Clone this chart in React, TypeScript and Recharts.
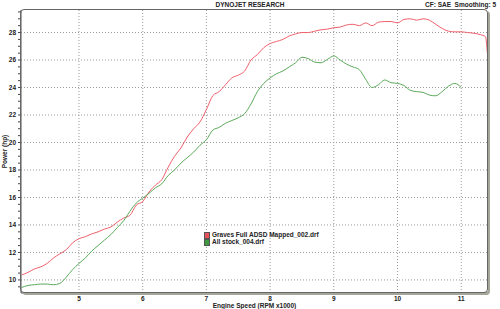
import React from 'react';
import { LineChart, Line, XAxis, YAxis, CartesianGrid, Legend } from 'recharts';

// engine speed in RPM x1000
const rpm = [
    4.1, 4.2, 4.3, 4.4, 4.5, 4.6, 4.7, 4.8, 4.9, 5.0,
    5.1, 5.2, 5.3, 5.4, 5.5, 5.6, 5.7, 5.8, 5.9, 6.0,
    6.1, 6.2, 6.3, 6.4, 6.5, 6.6, 6.7, 6.8, 6.9, 7.0,
    7.1, 7.2, 7.3, 7.4, 7.5, 7.6, 7.7, 7.8, 7.9, 8.0,
    8.1, 8.2, 8.3, 8.4, 8.5, 8.6, 8.7, 8.8, 8.9, 9.0,
    9.1, 9.2, 9.3, 9.4, 9.5, 9.6, 9.7, 9.8, 9.9, 10.0,
    10.1, 10.2, 10.3, 10.4, 10.5, 10.6, 10.7, 10.8, 10.9, 11.0,
    11.1, 11.2, 11.3, 11.38, 11.41,
];

// Graves Full ADSD Mapped_002.drf (hp)
const gravesHp = [
    10.36, 10.55, 10.8, 10.95, 11.2, 11.6, 11.9, 12.2, 12.7, 13.0,
    13.15, 13.35, 13.5, 13.7, 13.85, 14.2, 14.5, 14.7, 15.45, 15.7,
    16.4, 16.9, 17.3, 18.2, 19.0, 19.6, 20.4, 21.0, 21.5, 22.4,
    23.4, 23.7, 24.2, 24.7, 24.9, 25.2, 26.0, 26.4, 26.9, 27.2,
    27.35, 27.5, 27.75, 27.9, 28.0, 28.0, 28.1, 28.2, 28.25, 28.35,
    28.4, 28.55, 28.6, 28.5, 28.7, 28.5, 28.75, 28.8, 28.8, 28.7,
    28.95, 29.0, 28.9, 29.0, 28.9, 28.6, 28.3, 28.1, 28.05, 28.05,
    28.0, 27.95, 27.85, 27.7, 26.5,
];

// All stock_004.drf (hp)
const stockHp = [
    9.45, 9.6, 9.65, 9.7, 9.7, 9.65, 9.75, 10.2, 10.75, 11.2,
    11.6, 12.1, 12.5, 12.9, 13.3, 13.8, 14.3, 15.0, 15.6, 15.95,
    16.3, 16.7, 17.0, 17.6, 18.0, 18.5, 18.9, 19.3, 19.8, 20.2,
    20.9, 21.1, 21.4, 21.6, 21.8, 22.1, 22.8, 23.7, 24.3, 24.7,
    25.0, 25.2, 25.5, 25.8, 26.2, 26.1, 25.85, 25.8, 26.05, 26.3,
    26.0, 25.7, 25.5, 25.3, 24.6, 24.0, 24.2, 24.55, 24.35, 24.3,
    24.15, 23.8, 23.7, 23.65, 23.45, 23.4, 23.7, 24.1, 24.3, 24.0,
    null, null, null, null, null,
];

const xLabels = [5, 6, 7, 8, 9, 10, 11];
const yLabels = [10, 12, 14, 16, 18, 20, 22, 24, 26, 28];

const FONT = '"Liberation Sans", Arial, sans-serif';

// minor tick marks: every 0.2 on x, every 0.5 on y
const xTicks: number[] = [];
for (let i = 21; i <= 57; i++) xTicks.push(Math.round(i * 2) / 10);
const yTicks: number[] = [];
for (let i = 19; i <= 59; i++) yTicks.push(i / 2);

const data = rpm.map((r, i) => ({ rpm: r, graves: gravesHp[i], stock: stockHp[i] }));

const isMajor = (v: number, list: number[]) => list.some((m) => Math.abs(m - v) < 1e-6);

const XTick = (props: any) => {
    const { x, y, payload } = props;
    const major = isMajor(payload.value, xLabels);
    return (
        <g>
            <line x1={x} x2={x} y1={y} y2={y + 2} stroke="#444" />
            {major && (
                <text x={x} y={y + 7.5} textAnchor="middle" fontSize={6.5} fontWeight="bold" fill="#222" fontFamily={FONT}>
                    {Math.round(payload.value)}
                </text>
            )}
        </g>
    );
};

const YTick = (props: any) => {
    const { x, y, payload } = props;
    const major = isMajor(payload.value, yLabels);
    return (
        <g>
            <line x1={x - 3} x2={x} y1={y} y2={y} stroke="#444" />
            {major && (
                <text x={x - 5} y={y + 2.3} textAnchor="end" fontSize={6.5} fontWeight="bold" fill="#222" fontFamily={FONT}>
                    {payload.value}
                </text>
            )}
        </g>
    );
};

const legendItems = [
    { name: 'Graves Full ADSD Mapped_002.drf', color: '#e8505c' },
    { name: 'All stock_004.drf', color: '#3f9a3f' },
];

const DynoLegend = () => (
    <div style={{ fontFamily: FONT, fontSize: 6.5, fontWeight: 'bold', color: '#222', lineHeight: '6.5px' }}>
        {legendItems.map((it) => (
            <div key={it.name} style={{ display: 'flex', alignItems: 'center' }}>
                <span style={{ width: 4, height: 5, background: it.color, border: '0.5px solid #555', marginRight: 2 }} />
                {it.name}
            </div>
        ))}
    </div>
);

export default function App() {
    return (
        <div style={{ position: 'absolute', left: 0, top: 0, width: 500, height: 309, background: '#fff' }}>
            <div style={{ position: 'absolute', left: 0, top: 1, width: 500, textAlign: 'center', fontFamily: FONT, fontSize: 6.5, fontWeight: 'bold', color: '#222' }}>
                DYNOJET RESEARCH
            </div>
            <div style={{ position: 'absolute', left: 425, top: 1, whiteSpace: 'nowrap', fontFamily: FONT, fontSize: 6.5, fontWeight: 'bold', color: '#222' }}>
                CF: SAE&nbsp;&nbsp;Smoothing: 5
            </div>
            <LineChart width={500} height={309} data={data} margin={{ top: 10, right: 12, bottom: 0, left: 0 }}>
                <CartesianGrid
                    stroke="#9a9a9a"
                    strokeDasharray="1 2"
                    verticalValues={xLabels}
                    horizontalValues={yLabels}
                />
                <XAxis
                    dataKey="rpm"
                    type="number"
                    domain={[4.09, 11.42]}
                    allowDataOverflow
                    ticks={xTicks}
                    interval={0}
                    tick={<XTick />}
                    tickLine={false}
                    tickSize={0}
                    tickMargin={0}
                    height={16}
                    stroke="#555"
                    label={{ value: 'Engine Speed (RPM x1000)', position: 'insideBottom', offset: 1, fontSize: 6.5, fontWeight: 'bold', fill: '#222', fontFamily: FONT }}
                />
                <YAxis
                    type="number"
                    domain={[9.05, 29.64]}
                    allowDataOverflow
                    ticks={yTicks}
                    interval={0}
                    tick={<YTick />}
                    tickLine={false}
                    tickSize={0}
                    tickMargin={0}
                    width={21}
                    stroke="#555"
                    label={{ value: 'Power (hp)', angle: -90, position: 'insideLeft', offset: 5, textAnchor: 'middle', fontSize: 6.5, fontWeight: 'bold', fill: '#222', fontFamily: FONT }}
                />
                <Legend
                    layout="vertical"
                    verticalAlign="middle"
                    align="center"
                    content={<DynoLegend />}
                    wrapperStyle={{ left: 204, top: 232, width: 140 }}
                />
                <Line
                    type="monotone"
                    dataKey="graves"
                    name="Graves Full ADSD Mapped_002.drf"
                    stroke="#f0606c"
                    strokeWidth={1}
                    dot={false}
                    isAnimationActive={false}
                />
                <Line
                    type="monotone"
                    dataKey="stock"
                    name="All stock_004.drf"
                    stroke="#5aa95a"
                    strokeWidth={1}
                    dot={false}
                    connectNulls={false}
                    isAnimationActive={false}
                />
            </LineChart>
            <div
                style={{
                    position: 'absolute',
                    left: 20,
                    top: 9,
                    width: 468,
                    height: 284,
                    boxSizing: 'border-box',
                    border: '1px solid #666',
                    borderRadius: 4,
                    boxShadow: '2px 2px 0 #a6a698',
                    pointerEvents: 'none',
                }}
            />
        </div>
    );
}
